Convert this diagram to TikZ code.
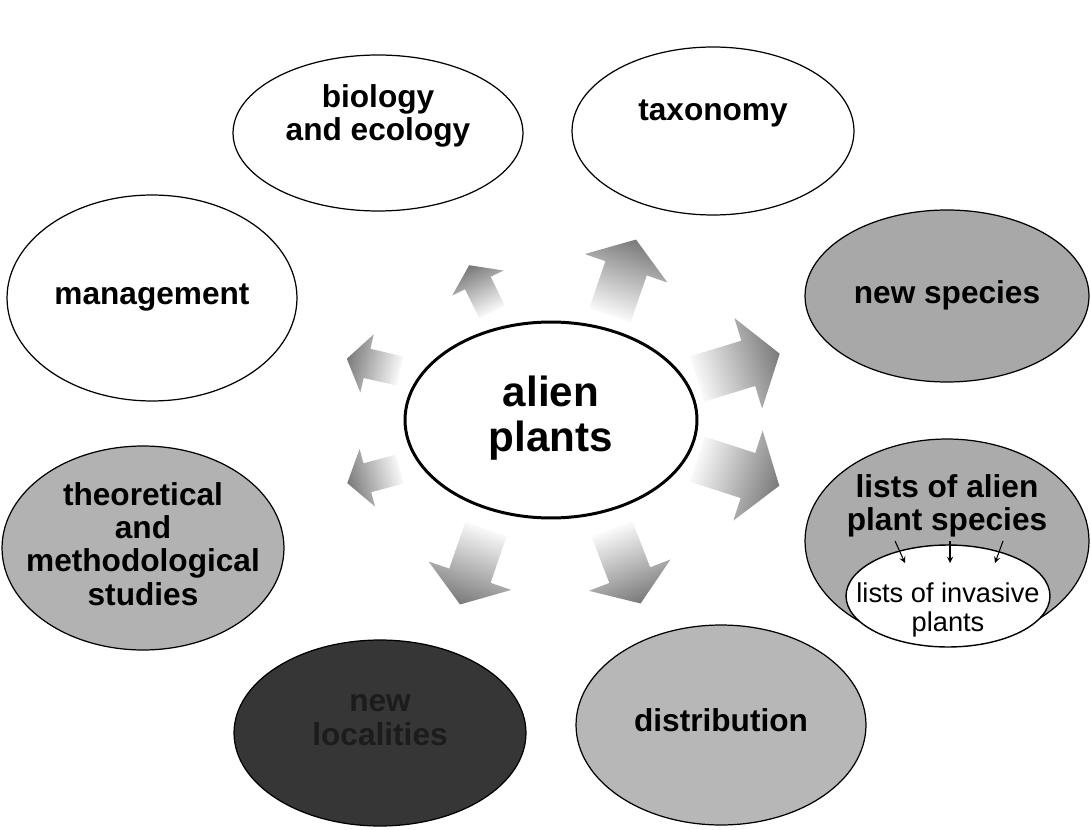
\documentclass[tikz,border=0pt]{standalone}
\usepackage{fontspec}
\setmainfont{Liberation Sans}
\usetikzlibrary{shapes.geometric,calc}

\definecolor{spgrey}{HTML}{A8A8A8}
\definecolor{thgrey}{HTML}{B2B2B2}
\definecolor{ligrey}{HTML}{ABABAB}
\definecolor{digrey}{HTML}{B7B7B7}
\definecolor{locdark}{HTML}{363636}
\definecolor{loctext}{HTML}{1C1C1C}

\newcommand{\fatarrow}[3]{%
  \pgfmathsetmacro\shang{#2+90}
  \shade[top color=white, bottom color=black!52, shading angle=\shang]
    ($(#1)+(#2-90:23*#3)$) -- ($(#1)+(#2:52*#3)+(#2-90:23*#3)$)
    -- ($(#1)+(#2:52*#3)+(#2-90:46*#3)$) -- ($(#1)+(#2:84*#3)$)
    -- ($(#1)+(#2:52*#3)+(#2+90:46*#3)$) -- ($(#1)+(#2:52*#3)+(#2+90:23*#3)$)
    -- ($(#1)+(#2+90:23*#3)$) -- cycle;}

\begin{document}
\begin{tikzpicture}[x=0.02cm, y=0.02cm,
    oval/.style={draw, ellipse, line width=0.7pt, inner sep=0pt},
    txt/.style={align=center, inner sep=0pt, font=\bfseries\fontsize{18}{19}\selectfont}]
    \useasboundingbox (0,0) rectangle (1091,829);

    \node[oval, minimum width=5.8cm, minimum height=3.12cm] (bio) at (378,696) {};
    \node[oval, minimum width=5.64cm, minimum height=3.36cm] (taxo) at (713,698) {};
    \node[oval, minimum width=5.8cm, minimum height=4.12cm] (mgmt) at (152,531) {};
    \node[oval, fill=spgrey, minimum width=5.68cm, minimum height=3.44cm] (newsp) at (947,533) {};
    \node[oval, line width=1.7pt, minimum width=5.84cm, minimum height=3.92cm] (alien) at (551,409) {};
    \node[oval, fill=thgrey, minimum width=5.64cm, minimum height=4.08cm] (theory) at (143,281) {};
    \node[oval, fill=ligrey, minimum width=5.68cm, minimum height=4.08cm] (lists) at (947,288) {};
    \node[oval, fill=white, line width=0.8pt, minimum width=4.08cm, minimum height=2.04cm] (inv) at (948,233) {};
    \node[oval, fill=locdark, minimum width=5.84cm, minimum height=3.72cm] (newloc) at (380,96) {};
    \node[oval, fill=digrey, minimum width=5.8cm, minimum height=4.0cm] (distr) at (721,104) {};

    \node[txt] (biotxt) at (378,713) {biology\\and ecology};
    \node[txt] (taxotxt) at (713,716) {taxonomy};
    \node[txt] (mgmttxt) at (152,531) {management};
    \node[txt] (newsptxt) at (947,534) {new species};
    \node[txt, font=\bfseries\fontsize{24}{26}\selectfont] (alientxt) at (551,411) {alien\\plants};
    \node[txt] (theorytxt) at (143,285) {theoretical\\and\\methodological\\studies};
    \node[txt] (liststxt) at (947,323) {lists of alien\\plant species};
    \node[txt, font=\fontsize{15.5}{16.5}\selectfont] (invtxt) at (948,219) {lists of invasive\\plants};
    \node[txt, text=loctext] (newloctxt) at (380,109) {new\\localities};
    \node[txt] (distrtxt) at (721,109) {distribution};

    \foreach \sx/\ex in {-53/-43, 2/2, 55/47}
        \draw[-stealth, line width=0.6pt] ($(inv)+(\sx,55)$) -- ($(inv)+(\ex,33)$);

    \fatarrow{492,517}{116}{0.62}
    \fatarrow{610,514}{71}{0.95}
    \fatarrow{697,450}{17}{1.03}
    \fatarrow{697,370}{-18}{1.03}
    \fatarrow{400,458}{167}{0.65}
    \fatarrow{400,360}{195}{0.65}
    \fatarrow{486,300}{-109}{0.95}
    \fatarrow{612,300}{-69}{0.95}
\end{tikzpicture}
\end{document}
